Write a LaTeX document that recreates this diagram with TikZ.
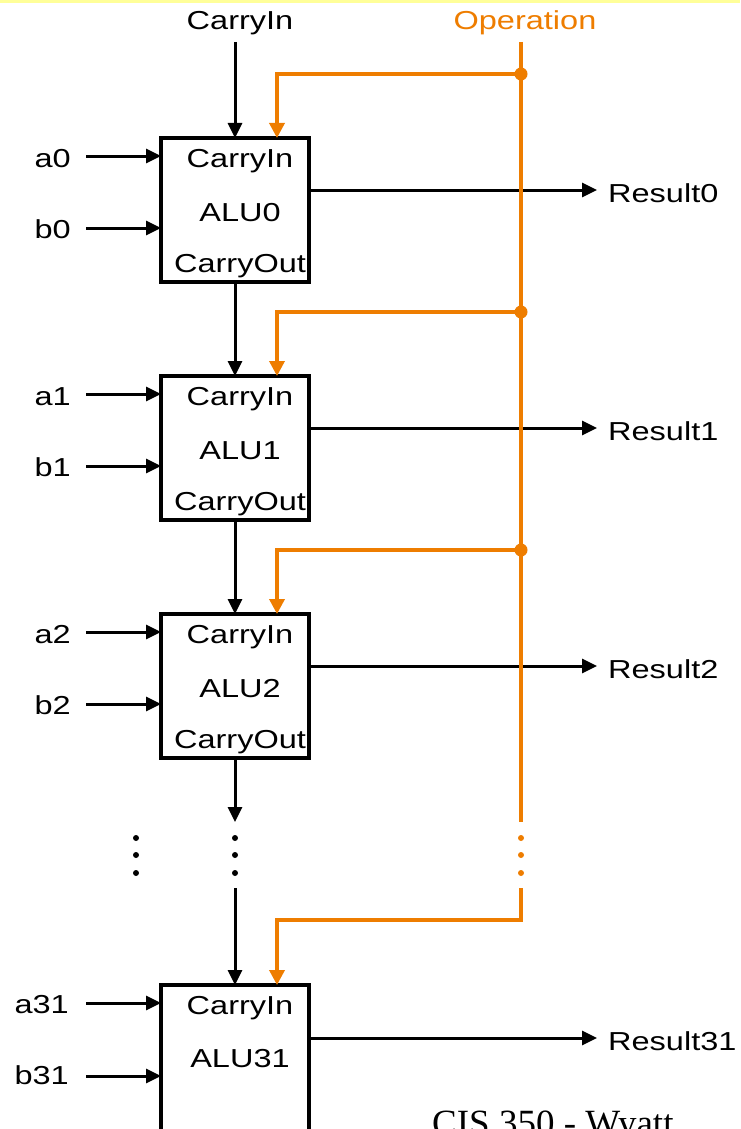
\documentclass[tikz,border=0pt]{standalone}
\usepackage{fontspec}
\setmainfont{Liberation Sans}
\newfontfamily\wsans[FakeStretch=1.25]{Liberation Sans}
\newfontfamily\tnr{Liberation Serif}
\usetikzlibrary{arrows.meta}
\definecolor{opc}{RGB}{238,125,0}
\definecolor{topy}{RGB}{255,255,153}
\begin{document}
\begin{tikzpicture}[x=1pt,y=-1pt,
  lbl/.style={font=\wsans\fontsize{26}{30}\selectfont, inner sep=0pt},
  oplbl/.style={lbl, text=opc},
  alubox/.style={draw, line width=3.2pt, minimum width=148pt, minimum height=144pt, inner sep=0pt, outer sep=0pt},
  arr/.style={line width=3pt, -{Triangle[length=15pt,width=14pt]}},
  opline/.style={opc, line width=3.5pt},
  oparr/.style={opline, -{Triangle[length=15pt,width=15pt]}},
  jdot/.style={fill=opc},
  ell/.style={fill=black}]
\useasboundingbox (0,0) rectangle (740,1129);
\clip (0,0) rectangle (740,1129);
\fill[topy] (0,0) rectangle (740,3);

% top labels
\node[lbl, anchor=base] (cin) at (240,30) {CarryIn};
\node[oplbl, anchor=base] (op) at (525,30) {Operation};
\coordinate (cinS) at (235,42);
\coordinate (opS) at (521,42);

% ALU boxes 0..2
\foreach \i/\t in {0/138,1/376,2/614}{
  \node[alubox] (alu\i) at (235,\t+72) {};
  \node[lbl, anchor=base] (ci\i) at (240,\t+29) {CarryIn};
  \node[lbl, anchor=base] (nm\i) at (240,\t+83) {ALU\i};
  \node[lbl, anchor=base] (co\i) at (240,\t+134) {CarryOut};
  \node[lbl, anchor=base east] (a\i) at (71,\t+29) {a\i};
  \node[lbl, anchor=base east] (b\i) at (71,\t+100) {b\i};
  \coordinate (as\i) at (86,\t+18);
  \coordinate (bs\i) at (86,\t+90);
  \draw[arr] (as\i) -- (as\i -| alu\i.west);
  \draw[arr] (bs\i) -- (bs\i -| alu\i.west);
  \coordinate (re\i) at (597,\t+52);
  \draw[arr] (re\i -| alu\i.east) -- (re\i);
  \node[lbl, anchor=base west] (r\i) at (608,\t+64) {Result\i};
  \coordinate (j\i) at (521,\t-64);
  \draw[oparr] (j\i) -| ([xshift=42pt]alu\i.north);
}

% ALU31
\node[alubox, minimum height=200pt] (alu31) at (235,1085) {};
\node[lbl, anchor=base] (ci31) at (240,1014) {CarryIn};
\node[lbl, anchor=base] (nm31) at (240,1067) {ALU31};
\node[lbl, anchor=base east] (a31) at (69,1013) {a31};
\node[lbl, anchor=base east] (b31) at (69,1084) {b31};
\coordinate (as31) at (86,1003);
\coordinate (bs31) at (86,1076);
\draw[arr] (as31) -- (as31 -| alu31.west);
\draw[arr] (bs31) -- (bs31 -| alu31.west);
\coordinate (re31) at (597,1038);
\draw[arr] (re31 -| alu31.east) -- (re31);
\node[lbl, anchor=base west] (r31) at (608,1050) {Result31};

% carry chain
\draw[arr] (cinS) -- (alu0.north);
\draw[arr] (alu0.south) -- (alu1.north);
\draw[arr] (alu1.south) -- (alu2.north);
\coordinate (cgapA) at (235,822);
\coordinate (cgapB) at (235,888);
\draw[arr] (alu2.south) -- (cgapA);
\draw[arr] (cgapB) -- (alu31.north);

% operation bus
\coordinate (ogapA) at (521,822);
\coordinate (ogapB) at (521,888);
\coordinate (obend) at (521,920);
\draw[opline] (opS) -- (ogapA);
\draw[oparr] (ogapB) -- (obend) -| ([xshift=42pt]alu31.north);
\foreach \j in {0,1,2}{\fill[jdot] (j\j) circle (6.5pt);}

% ellipses
\foreach \y in {838,855,873}{
  \fill[ell] (136,\y) circle (3pt);
  \fill[ell] (235,\y) circle (3pt);
  \fill[opc] (521,\y) circle (3pt);
}

% footer
\node[font=\tnr\fontsize{37}{40}\selectfont, inner sep=0pt, anchor=base west] (foot) at (432,1135) {CIS 350 - Wyatt};
\end{tikzpicture}
\end{document}
